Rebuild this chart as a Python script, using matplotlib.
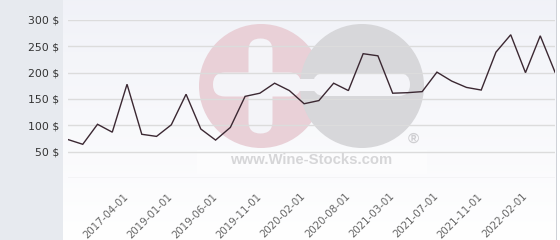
import matplotlib
matplotlib.use("Agg")
import matplotlib.pyplot as plt
import numpy as np
from matplotlib.patches import Circle, FancyBboxPatch, Rectangle
from matplotlib.transforms import Affine2D, IdentityTransform, ScaledTranslation

# ---- data ----
prices = [73, 64, 102, 87, 178, 83, 79, 101, 159, 93, 72, 96, 155, 161, 180, 166,
          141, 147, 180, 166, 236, 232, 161, 162, 164, 201, 184, 172, 167, 239,
          272, 200, 270, 201]
tick_labels = ["2017-04-01", "2019-01-01", "2019-06-01", "2019-11-01", "2020-02-01",
               "2020-08-01", "2021-03-01", "2021-07-01", "2021-11-01", "2022-02-01"]
y_ticks = [50, 100, 150, 200, 250, 300]

W, H = 560, 240
fig = plt.figure(figsize=(W / 100, H / 100), dpi=100)
fig.patch.set_facecolor("#e7eaef")

# pixel transform (origin top-left)
PX = Affine2D().scale(1, -1).translate(0, H) + IdentityTransform()

# plot background gradient
grad = np.linspace(0, 1, 256).reshape(-1, 1)
bg_ax = fig.add_axes([63 / W, 0, (556 - 63) / W, 1])
bg_ax.set_zorder(-5)
bg_ax.set_axis_off()
top = np.array([0.945, 0.950, 0.972])
bot = np.array([1.0, 1.0, 1.0])
img = top[None, None, :] * (1 - grad[:, :, None]) + bot[None, None, :] * grad[:, :, None]
bg_ax.imshow(img, aspect="auto", extent=[0, 1, 0, 1], origin="upper")
fig.add_artist(Rectangle((556, 0), 1, H, transform=PX, color="#cfd2d8", lw=0))
fig.add_artist(Rectangle((557, 0), 3, H, transform=PX, color="#ffffff", lw=0))

# watermark
fig.add_artist(Circle((261, 86), 62, transform=PX, color="#e9d0d7", lw=0, zorder=1))
fig.add_artist(Circle((362, 86), 62, transform=PX, color="#d7d7da", lw=0, zorder=1.1))
wm_white = "#f4f4f8"
fig.add_artist(FancyBboxPatch((248.5, 38.5), 24, 95, boxstyle="round,pad=0,rounding_size=12",
                              transform=PX, color=wm_white, lw=0, zorder=1.2))
fig.add_artist(FancyBboxPatch((213, 72.5), 88, 24, boxstyle="round,pad=0,rounding_size=12",
                              transform=PX, color=wm_white, lw=0, zorder=1.2))
fig.add_artist(Rectangle((290, 78.5), 30, 12, transform=PX, color=wm_white, lw=0, zorder=1.2))
fig.add_artist(FancyBboxPatch((313, 73), 97, 23, boxstyle="round,pad=0,rounding_size=11.5",
                              transform=PX, color=wm_white, lw=0, zorder=1.2))
fig.add_artist(Rectangle((197, 150), 230, 24, transform=PX, color="#ffffff", alpha=0.45, lw=0, zorder=1.2))
fig.text(311, 160, "www.Wine-Stocks.com", transform=PX, family="Liberation Sans",
         weight="bold", fontsize=10.7, color="#d6d6d8", ha="center", va="center", zorder=1.3)
fig.text(413, 139, "®", transform=PX, family="Liberation Sans", weight="bold",
         fontsize=11, color="#cfcfd2", ha="center", va="center", zorder=1.3)

# main axes: x from 68 to 555 px, y from 20 (300) to 178 (0)
ax = fig.add_axes([68 / W, (H - 178) / H, (555 - 68) / W, (178 - 20) / H])
ax.set_zorder(5)
ax.patch.set_alpha(0)
x = np.arange(len(prices))
ax.set_xlim(0, len(prices) - 1)
ax.set_ylim(0, 300)
for v in [0] + y_ticks:
    ax.axhline(v, color="#dcdcdc", lw=1, zorder=2)
ax.plot(x, prices, color="#3b2832", lw=1, zorder=3, solid_joinstyle="miter")
for s in ax.spines.values():
    s.set_visible(False)
ax.set_yticks(y_ticks)
ax.set_yticklabels([f"{v} $" for v in y_ticks], fontsize=7.8, color="#333333",
                   family="DejaVu Sans")
tick_pos = list(range(4, len(prices), 3))[:len(tick_labels)]
ax.set_xticks(tick_pos)
ax.set_xticklabels(tick_labels, rotation=45, ha="right", va="center",
                   rotation_mode="anchor", fontsize=7.4, color="#666666",
                   family="DejaVu Sans")
shift = ScaledTranslation(3 / 100, 0, fig.dpi_scale_trans)
for lbl in ax.get_xticklabels():
    lbl.set_transform(lbl.get_transform() + shift)
ax.tick_params(axis="both", length=0)
ax.tick_params(axis="y", pad=6.5)
ax.tick_params(axis="x", pad=12)

fig.savefig("out.png", dpi=100)
